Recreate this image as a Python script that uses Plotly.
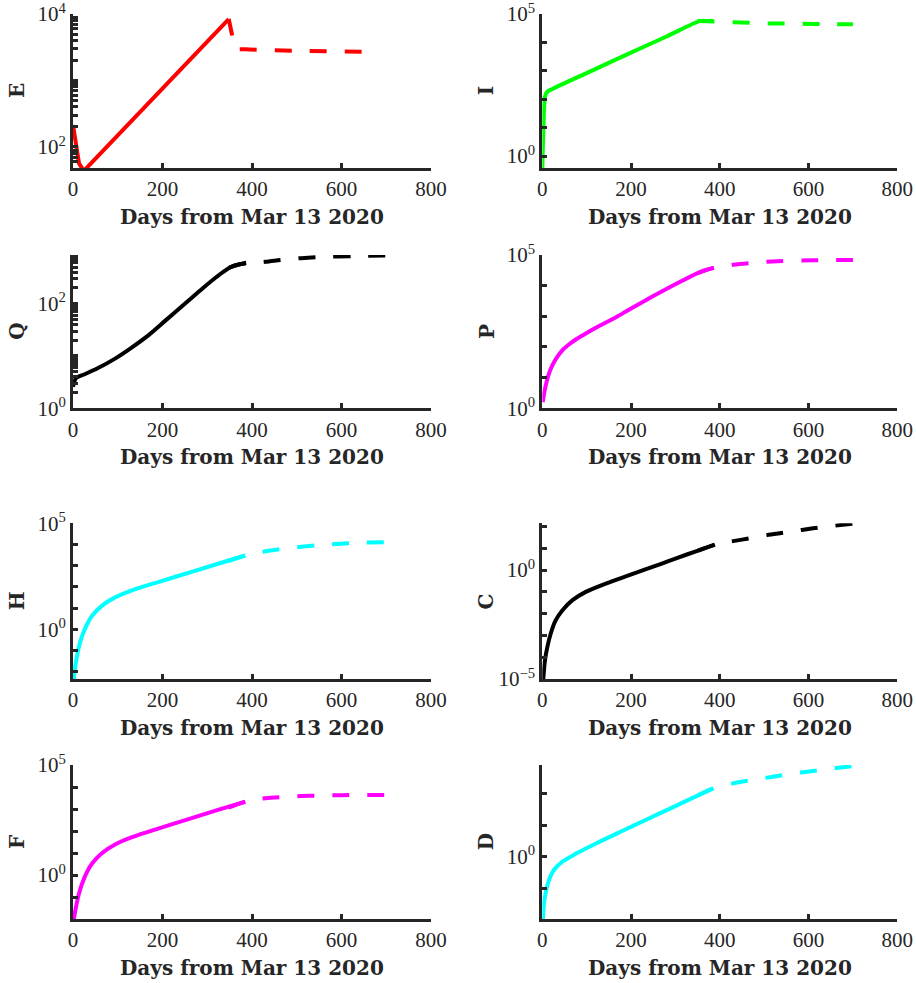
import plotly.graph_objects as go

# ---------------- data ----------------
days_label = "Days from Mar 13 2020"
panel_names = ["E", "I", "Q", "P", "H", "C", "F", "D"]
panel_colors = ["#ff0000", "#00ff00", "#000000", "#ff00ff", "#00ffff", "#000000", "#ff00ff", "#00ffff"]

E_fit_x = [0, 5, 9, 13.4, 21, 26, 37, 100, 200, 300, 348]
E_fit_y = [214, 127, 80, 57, 47, 45, 54, 150, 760, 3800, 8400]
E_pred_x = [348, 355, 362, 386, 500, 664]
E_pred_y = [8400, 5000, 3050, 2950, 2800, 2700]

I_fit_x = [0, 1, 2.3, 3.8, 6, 11, 25, 100, 190, 280, 355, 370, 385]
I_fit_y = [0.3, 1.58, 6.3, 41.7, 123, 182, 240, 832, 3700, 16200, 56234, 57000, 56234]
I_pred_x = [350, 385, 430, 470, 510, 560, 613, 660, 700]
I_pred_y = [56234, 54954, 51286, 48978, 46774, 45709, 44668, 43652, 43652]

Q_fit_x = [0, 7, 26, 56, 94, 131, 169, 207, 244, 282, 319, 353, 387]
Q_fit_y = [2.57, 3.80, 4.47, 5.89, 8.91, 14.5, 25.1, 47.9, 90.2, 172, 316, 501, 603]
Q_pred_x = [349, 370, 390, 430, 470, 510, 550, 630, 699]
Q_pred_y = [490, 562, 589, 631, 692, 741, 776, 813, 832]

P_fit_x = [1, 5, 10, 16, 24, 33, 45, 60, 78, 100, 130, 165, 198, 250, 303, 350, 370, 387]
P_fit_y = [1.58, 3.55, 7.59, 14.8, 27.5, 45.7, 77.6, 120, 186, 288, 501, 912, 1738, 4571,
           11749, 25704, 33113, 38019]
P_pred_x = [350, 387, 430, 480, 530, 610, 700]
P_pred_y = [25704, 38019, 47863, 56234, 63096, 67608, 69183]

H_fit_x = [1.5, 4, 6.7, 12.7, 20.2, 31.4, 42.6, 65, 95, 132, 192, 267, 322, 385]
H_fit_y = [0.004, 0.0126, 0.030, 0.132, 0.479, 1.74, 4.37, 13.2, 33.1, 69.2, 174, 525, 1202, 3020]
H_pred_x = [348, 385, 426, 467, 509, 546, 590, 640, 699]
H_pred_y = [1660, 3020, 4571, 6166, 7762, 9120, 10715, 12023, 12882]

C_fit_x = [1, 3, 6, 11.3, 18.9, 30, 45, 68, 98, 143, 196, 271, 303, 351, 389]
C_fit_y = [5e-6, 1.6e-5, 7.1e-5, 2.9e-4, 1.2e-3, 4.9e-3, 0.0141, 0.0417, 0.1, 0.24, 0.589,
           2.04, 3.55, 7.94, 14.8]
C_pred_x = [351, 389, 430, 470, 510, 560, 610, 660, 701]
C_pred_y = [7.94, 14.8, 21.4, 29.5, 41.7, 58.9, 83.2, 110, 138]

F_fit_x = [1.5, 4, 6.7, 12.7, 20.2, 31.4, 42.6, 65, 95, 132, 192, 267, 322, 385]
F_fit_y = [0.008, 0.0178, 0.0355, 0.126, 0.398, 1.38, 3.31, 10.0, 25.1, 52.5, 132, 398, 891, 2138]
F_pred_x = [348, 385, 430, 470, 509, 550, 600, 650, 699]
F_pred_y = [1150, 2138, 3090, 3548, 3890, 4074, 4266, 4365, 4365]

D_fit_x = [1, 3.8, 9, 15, 26, 45, 75, 121, 181, 234, 283, 351, 385]
D_fit_y = [0.0079, 0.0339, 0.0891, 0.182, 0.380, 0.692, 1.23, 2.63, 6.61, 14.8, 30.9, 87.1, 144.5]
D_pred_x = [351, 385, 430, 475, 520, 565, 610, 655, 701]
D_pred_y = [87.1, 144.5, 209, 269, 339, 427, 513, 617, 741]

x_ticks = [0, 200, 400, 600, 800]
x_ticktext = ["0", "200", "400", "600", "800"]

# y-axis tick values (labelled ones get text, the rest are bare ticks)
E_yticks = [50, 60, 70, 80, 90, 100, 200, 300, 400, 500, 600, 700, 800, 900,
            1000, 2000, 3000, 4000, 5000, 6000, 7000, 8000, 9000, 10000]
E_ylabels = {100: "10<sup>2</sup>", 10000: "10<sup>4</sup>"}
Q_yticks = [1, 2, 3, 4, 5, 6, 7, 8, 9, 10, 20, 30, 40, 50, 60, 70, 80, 90, 100,
            200, 300, 400, 500, 600, 700, 800]
Q_ylabels = {1: "10<sup>0</sup>", 100: "10<sup>2</sup>"}
decade_ticks = [1e-5, 1e-4, 1e-3, 1e-2, 1e-1, 1, 10, 100, 1000, 1e4, 1e5]
five_labels = {1e-5: "10<sup>−5</sup>", 1: "10<sup>0</sup>", 1e5: "10<sup>5</sup>"}

# ---------------- layout geometry (page pixels) ----------------
W, H = 916, 983
col_px = [(73, 431), (542.3, 897.3)]
row_px = [(14, 168), (255, 408.3), (523.3, 679), (765, 919)]
y_ranges = [[1.684, 4.0], [-0.42, 5.0], [0.0, 2.93], [0.0, 5.0],
            [-2.34, 5.0], [-5.0, 2.15], [-2.0, 5.0], [-1.97, 2.9]]


def fx_(p):
    return p / W


def fy_(p):
    return 1 - p / H


series = [
    (E_fit_x, E_fit_y, E_pred_x, E_pred_y, E_yticks, E_ylabels),
    (I_fit_x, I_fit_y, I_pred_x, I_pred_y, decade_ticks, five_labels),
    (Q_fit_x, Q_fit_y, Q_pred_x, Q_pred_y, Q_yticks, Q_ylabels),
    (P_fit_x, P_fit_y, P_pred_x, P_pred_y, decade_ticks, five_labels),
    (H_fit_x, H_fit_y, H_pred_x, H_pred_y, decade_ticks, five_labels),
    (C_fit_x, C_fit_y, C_pred_x, C_pred_y, decade_ticks, five_labels),
    (F_fit_x, F_fit_y, F_pred_x, F_pred_y, decade_ticks, five_labels),
    (D_fit_x, D_fit_y, D_pred_x, D_pred_y, decade_ticks, five_labels),
]

AX = "#262626"
tick_font = dict(family="Liberation Serif, serif", size=21, color=AX)
label_font = dict(family="DejaVu Serif, serif", size=20, color=AX)

fig = go.Figure()
layout = dict(
    width=W, height=H, autosize=False,
    margin=dict(l=0, r=0, t=0, b=0, pad=0, autoexpand=False),
    paper_bgcolor="white", plot_bgcolor="white", showlegend=False,
    hovermode=False,
)
annotations = []

for i, (fx, fy, px_, py_, yt, ylab) in enumerate(series):
    r, c = divmod(i, 2)
    n = i + 1
    xs = "x" if n == 1 else f"x{n}"
    ys = "y" if n == 1 else f"y{n}"
    color = panel_colors[i]
    shape = "linear" if i == 0 else "spline"
    fig.add_trace(go.Scatter(x=fx, y=fy, mode="lines", xaxis=xs, yaxis=ys,
                             line=dict(color=color, width=4, shape=shape, smoothing=0.8),
                             hoverinfo="skip"))
    fig.add_trace(go.Scatter(x=px_, y=py_, mode="lines", xaxis=xs, yaxis=ys,
                             line=dict(color=color, width=4, dash="17px,18px",
                                       shape="spline", smoothing=0.8),
                             hoverinfo="skip"))
    x0, x1 = col_px[c]
    t, b = row_px[r]
    common = dict(showline=True, linewidth=3, linecolor=AX, showgrid=False,
                  zeroline=False, ticks="inside", ticklen=5, tickwidth=3,
                  tickcolor=AX, tickfont=tick_font, mirror=False, automargin=False,
                  ticklabeloverflow="allow")
    layout["xaxis" + ("" if n == 1 else str(n))] = dict(
        domain=[fx_(x0), fx_(x1)], anchor=ys, range=[0, 800],
        tickmode="array", tickvals=x_ticks, ticktext=x_ticktext, **common)
    layout["yaxis" + ("" if n == 1 else str(n))] = dict(
        domain=[fy_(b), fy_(t)], anchor=xs, type="log", range=y_ranges[i],
        tickmode="array", tickvals=yt, ticktext=[ylab.get(v, "") for v in yt],
        **common)
    annotations.append(dict(text="<b>" + days_label + "</b>", xref="paper", yref="paper",
                            x=fx_((x0 + x1) / 2), y=fy_(b + 49),
                            xanchor="center", yanchor="middle", showarrow=False,
                            font=label_font))
    annotations.append(dict(text="<b>" + panel_names[i] + "</b>", xref="paper", yref="paper",
                            x=fx_(x0 - 56), y=fy_((t + b) / 2), textangle=-90,
                            xanchor="center", yanchor="middle", showarrow=False,
                            font=label_font))

layout["annotations"] = annotations
fig.update_layout(**layout)
fig.write_html(
    "out.html",
    config={"displayModeBar": False, "staticPlot": True},
    post_script="document.body.style.margin='0';document.body.style.overflow='hidden';",
)
